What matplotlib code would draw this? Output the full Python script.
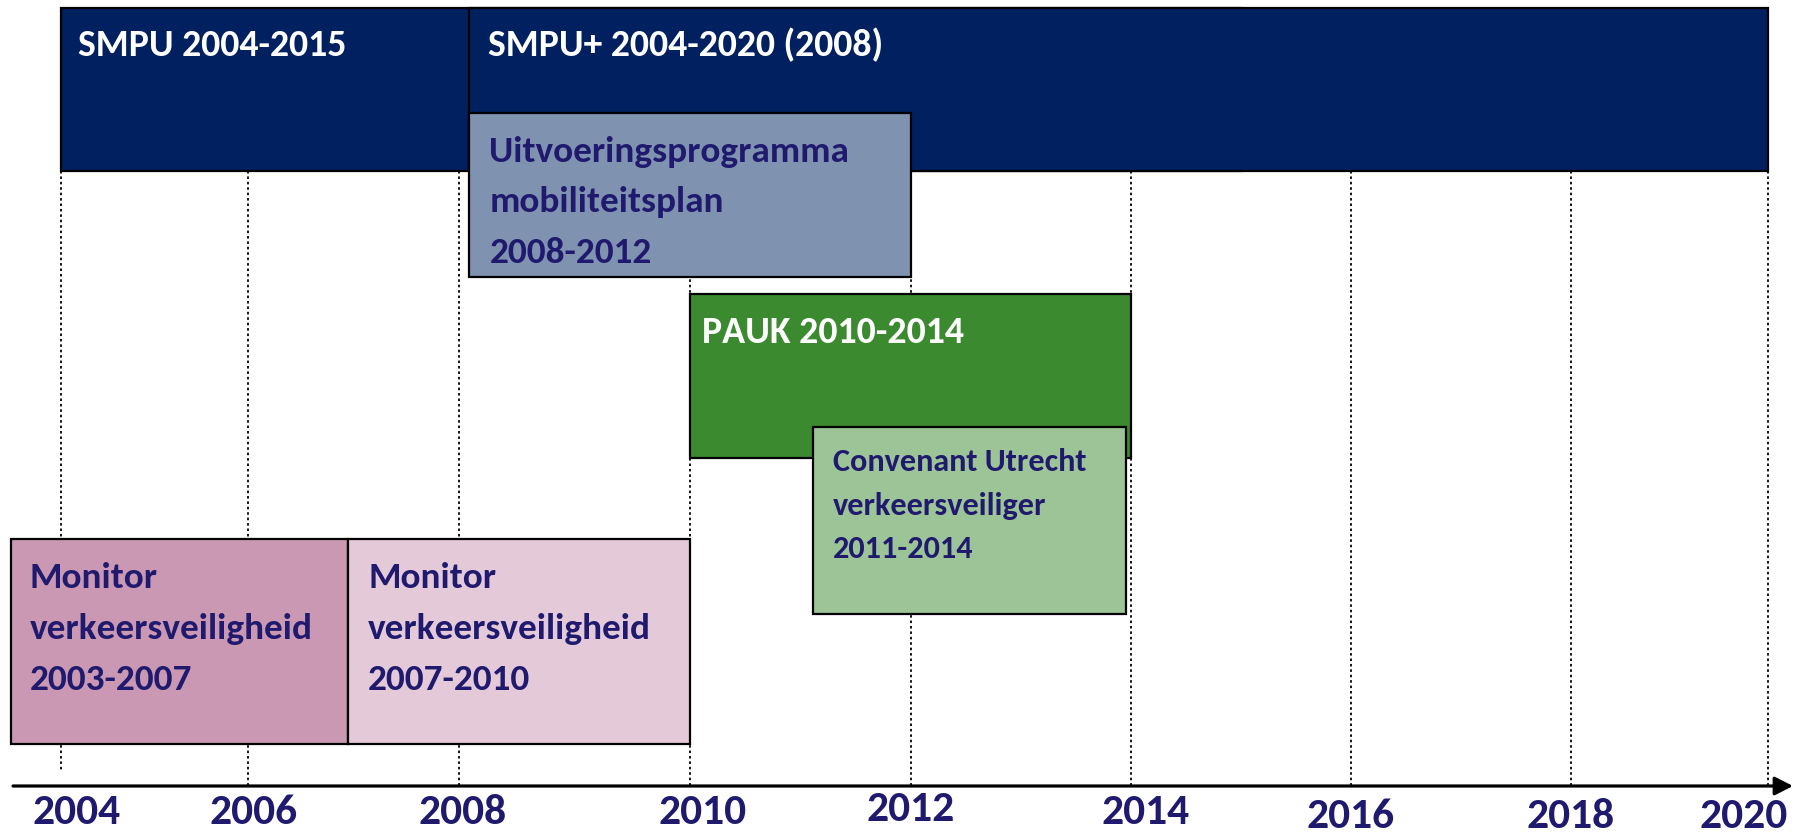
import numpy as np
import matplotlib
matplotlib.use("Agg")
import matplotlib.pyplot as plt
from matplotlib import font_manager

# ---------------- data ----------------
programme_labels = [
    "SMPU 2004-2015",
    "SMPU+ 2004-2020 (2008)",
    "Uitvoeringsprogramma\nmobiliteitsplan\n2008-2012",
    "PAUK 2010-2014",
    "Convenant Utrecht\nverkeersveiliger\n2011-2014",
    "Monitor\nverkeersveiligheid\n2003-2007",
    "Monitor\nverkeersveiligheid\n2007-2010",
]
# start / end of each bar as drawn on the time axis (years)
programme_start = [2004.0, 2008.09, 2008.09, 2010.0, 2011.11, 2003.47, 2006.95]
programme_end = [2015.0, 2020.0, 2012.0, 2014.0, 2013.95, 2006.95, 2010.0]

tick_years = [2004, 2006, 2008, 2010, 2012, 2014, 2016, 2018, 2020]
tick_labels = ["2004", "2006", "2008", "2010", "2012", "2014", "2016", "2018", "2020"]

# ---------------- layout / style ----------------
W, H = 1803, 836
NAVY = "#002060"
TXT = "#1F1A6E"

# horizontal position (pixels) of each year gridline in the original diagram
knot_years = [2002] + tick_years + [2022]
grid_px = [60.6, 248, 459, 690, 911, 1131, 1351, 1571, 1768]
knot_px = [grid_px[0] - (grid_px[1] - grid_px[0])] + grid_px + [grid_px[-1] + (grid_px[-1] - grid_px[-2])]


def fwd(x):
    return np.interp(x, knot_years, knot_px)


def inv(p):
    return np.interp(p, knot_px, knot_years)


avail = {f.name for f in font_manager.fontManager.ttflist}
cap_ratio = {"Carlito": 0.644, "Lato": 0.7165, "Open Sans": 0.714, "DejaVu Sans": 0.729}
FONT = "DejaVu Sans"
for cand in ["Carlito", "Lato", "Open Sans", "DejaVu Sans"]:
    if cand in avail:
        FONT = cand
        break


def pt_for_cap(cap_px):
    return cap_px / cap_ratio[FONT] * 72.0 / 100.0


# box rows: (top, bottom) in px, fill, text colour, cap height px, text x offset px, baselines
box_rows = [(8, 171), (8, 171), (113, 277), (294, 458), (427, 614), (539, 744), (539, 744)]
box_fill = [NAVY, NAVY, "#7F92B0", "#3C8A2F", "#9DC497", "#CA98B2", "#E4CAD8"]
box_tcol = ["white", "white", TXT, "white", TXT, TXT, TXT]
box_cap = [24.3, 24.3, 24.0, 24.4, 20.7, 24.0, 24.0]
box_dx = [17.5, 19, 20, 12, 20, 19, 20]
box_base = [[56], [56], [162, 212, 263], [343], [471, 515, 558], [588, 639, 690], [588, 639, 690]]

fig = plt.figure(figsize=(W / 100, H / 100), dpi=100)
ax = fig.add_axes([0, 0, 1, 1])
ax.set_xscale("function", functions=(fwd, inv))
ax.set_xlim(inv(0), inv(W))
ax.set_ylim(H, 0)
ax.axis("off")

# dotted year gridlines
grid_top = [171] * len(tick_years)
grid_bot = [772, 786, 786, 786, 786, 786, 786, 786, 786]
ax.vlines(tick_years, grid_top, grid_bot, colors="black", linewidth=1.3,
          linestyles=(0, (1.4, 1.6)), zorder=1)

# programme boxes
for i, lab in enumerate(programme_labels):
    top, bot = box_rows[i]
    ax.barh((top + bot) / 2, programme_end[i] - programme_start[i], left=programme_start[i],
            height=bot - top, color=box_fill[i], edgecolor="black", linewidth=1.6,
            zorder=2 + i)
    fs = pt_for_cap(box_cap[i])
    for line, base in zip(lab.split("\n"), box_base[i]):
        ax.annotate(line, xy=(programme_start[i], base), xytext=(box_dx[i], 0),
                    textcoords="offset pixels", ha="left", va="baseline",
                    fontsize=fs, fontweight="bold", color=box_tcol[i],
                    family=FONT, zorder=20)

# time axis with arrow
ax.annotate("", xy=(inv(1793), 786), xytext=(inv(13), 786),
            arrowprops=dict(arrowstyle="-|>,head_length=0.55,head_width=0.28",
                            mutation_scale=20, lw=2.3, color="black",
                            shrinkA=0, shrinkB=0), zorder=30)

# year labels (placed as in the original diagram)
lab_dx = [16, 6, 4, 13, 0, 15, 0, 0, -24]
lab_base = [824, 824, 824, 824, 821, 824, 828, 828, 828]
for yr, txt, dx, base in zip(tick_years, tick_labels, lab_dx, lab_base):
    ax.annotate(txt, xy=(yr, base), xytext=(dx, 0), textcoords="offset pixels",
                ha="center", va="baseline", fontsize=pt_for_cap(28.0),
                fontweight="bold", color=TXT, family=FONT, zorder=30)

fig.savefig("out.png", dpi=100)
